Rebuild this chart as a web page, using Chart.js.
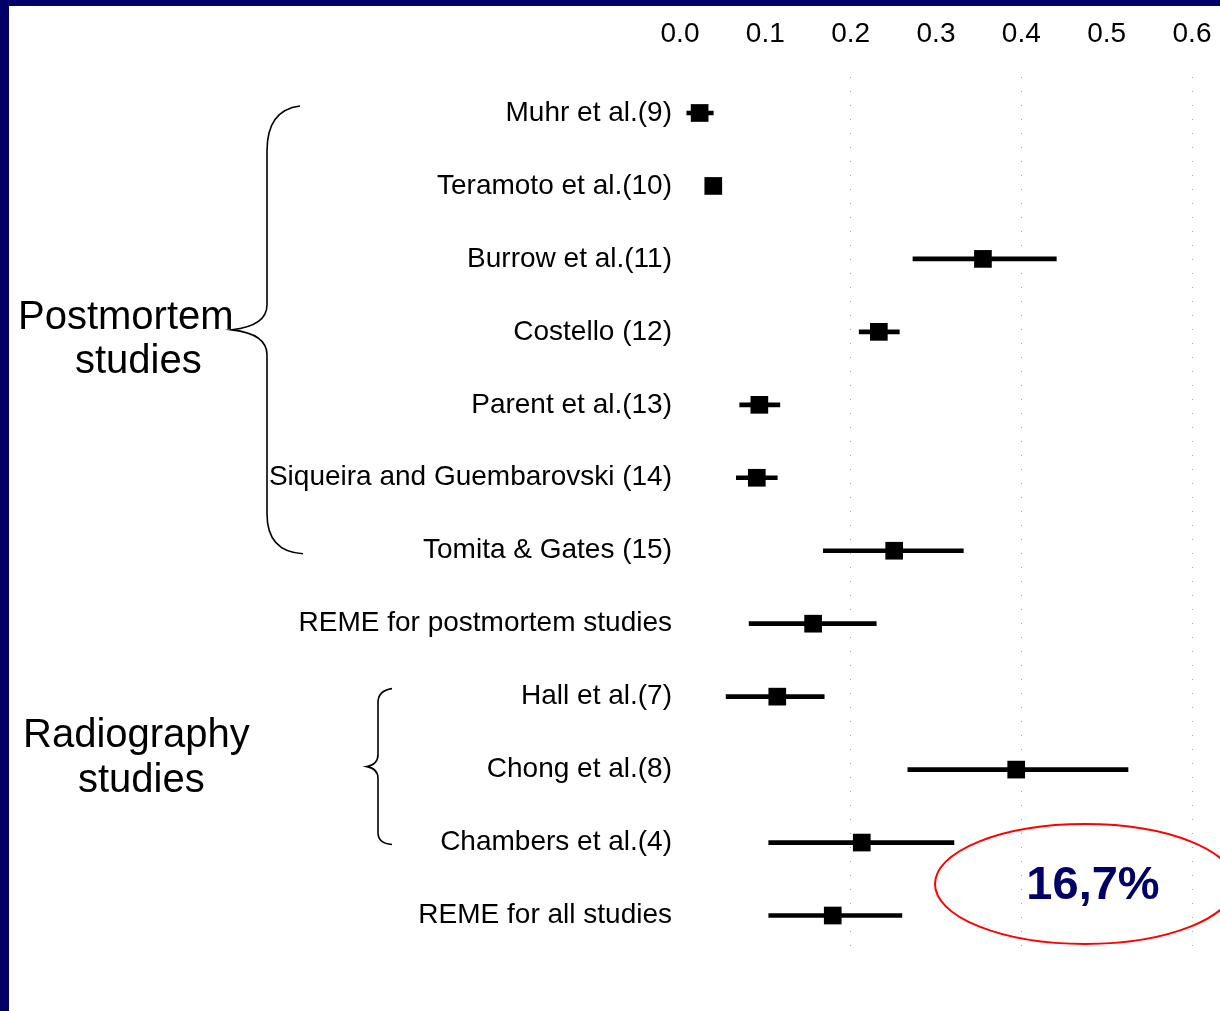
<!DOCTYPE html>
<html>
<head>
<meta charset="utf-8">
<script src="https://cdn.jsdelivr.net/npm/chart.js@4.4.0/dist/chart.umd.min.js"></script>
<style>
  body { margin: 0; background: #000066; overflow: hidden; }
  #wrap { position: absolute; left: 9px; top: 6px; width: 1211px; height: 1005px; background: #fff; }
</style>
</head>
<body>
<div id="wrap"><canvas id="forest" width="1211" height="1005"></canvas></div>
<script>
// studies, proportion and 95% CI
const studies = ['Muhr et al.(9)', 'Teramoto et al.(10)', 'Burrow et al.(11)', 'Costello (12)',
  'Parent et al.(13)', 'Siqueira and Guembarovski (14)', 'Tomita & Gates (15)',
  'REME for postmortem studies', 'Hall et al.(7)', 'Chong et al.(8)', 'Chambers et al.(4)', 'REME for all studies'];
const estimate = [0.023, 0.039, 0.355, 0.233, 0.093, 0.090, 0.251, 0.156, 0.114, 0.394, 0.213, 0.179];
const lower = [0.008, 0.039, 0.273, 0.210, 0.070, 0.066, 0.168, 0.081, 0.054, 0.267, 0.104, 0.104];
const upper = [0.039, 0.039, 0.441, 0.257, 0.117, 0.114, 0.332, 0.230, 0.169, 0.525, 0.321, 0.260];
const xTicks = [0, 0.1, 0.2, 0.3, 0.4, 0.5, 0.6];
const refLines = [0.2, 0.4, 0.6];

const ci = studies.map((s, i) => [lower[i], upper[i]]);

// braces, group names and the circled pooled value
const extras = {
  id: 'extras',
  afterDraw(chart) {
    const c = chart.ctx;
    const y = chart.scales.y;
    c.save();
    c.strokeStyle = '#000';
    c.lineWidth = 1.6;

    // postmortem brace
    let top = y.getPixelForValue(0) - 7;
    let bot = y.getPixelForValue(6) + 3;
    let mid = (top + bot) / 2;
    c.beginPath();
    c.moveTo(291, top);
    c.quadraticCurveTo(258, top + 4, 258, top + 45);
    c.lineTo(258, mid - 25);
    c.quadraticCurveTo(258, mid - 4, 223, mid);
    c.quadraticCurveTo(258, mid + 4, 258, mid + 25);
    c.lineTo(258, bot - 40);
    c.quadraticCurveTo(258, bot - 2, 294, bot);
    c.stroke();

    // radiography brace
    top = y.getPixelForValue(8) - 8;
    bot = y.getPixelForValue(10) + 2;
    mid = (top + bot) / 2;
    c.beginPath();
    c.moveTo(383, top);
    c.quadraticCurveTo(369, top + 2, 369, top + 14);
    c.lineTo(369, mid - 12);
    c.quadraticCurveTo(369, mid - 2, 358, mid);
    c.quadraticCurveTo(369, mid + 2, 369, mid + 12);
    c.lineTo(369, bot - 12);
    c.quadraticCurveTo(369, bot - 1, 383, bot);
    c.stroke();

    c.fillStyle = '#000';
    c.font = '40px "Liberation Sans", Arial, sans-serif';
    c.textBaseline = 'middle';
    c.textAlign = 'left';
    c.fillText('Postmortem', 9, 312);
    c.fillText('studies', 66, 356);
    c.fillText('Radiography', 14, 730);
    c.fillText('studies', 69, 775);

    c.beginPath();
    c.ellipse(1076, 878, 150, 60, 0, 0, Math.PI * 2);
    c.strokeStyle = '#ff0000';
    c.lineWidth = 2;
    c.stroke();
    c.fillStyle = '#000066';
    c.font = 'bold 47px "Liberation Sans", Arial, sans-serif';
    c.textAlign = 'center';
    c.fillText('16,7%', 1084, 880);
    c.restore();
  }
};

new Chart(document.getElementById('forest'), {
  type: 'bar',
  data: {
    labels: studies,
    datasets: [
      {
        type: 'line',
        data: estimate,
        showLine: false,
        pointStyle: 'rect',
        pointRadius: 12.5,
        backgroundColor: '#000',
        borderColor: '#000',
        borderWidth: 0,
        clip: false,
        order: 0
      },
      {
        data: ci,
        backgroundColor: '#000',
        barThickness: 4,
        borderSkipped: false,
        grouped: false,
        order: 1
      }
    ]
  },
  options: {
    indexAxis: 'y',
    responsive: false,
    animation: false,
    devicePixelRatio: 1,
    layout: { padding: { left: 0, right: 28, top: 0, bottom: 59 } },
    scales: {
      x: {
        type: 'linear',
        position: 'top',
        min: 0,
        max: 0.6,
        afterBuildTicks: s => { s.ticks = xTicks.map(v => ({ value: v })); },
        afterFit: s => { s.height = 70.5; s.paddingLeft = 0; s.paddingRight = 0; },
        ticks: {
          autoSkip: false,
          maxRotation: 0,
          padding: 25,
          color: '#000',
          font: { family: '"Liberation Sans", Arial, sans-serif', size: 28 },
          callback: v => v.toFixed(1)
        },
        grid: {
          drawTicks: false,
          lineWidth: 1,
          color: c => refLines.some(r => Math.abs(c.tick.value - r) < 1e-6) ? 'rgba(0,0,0,0.35)' : 'rgba(0,0,0,0)'
        },
        border: { display: false, dash: [1, 13] }
      },
      y: {
        type: 'category',
        offset: true,
        afterFit: s => { s.width = 671; },
        ticks: {
          padding: 0,
          color: '#000',
          autoSkip: false,
          font: { family: '"Liberation Sans", Arial, sans-serif', size: 28 }
        },
        grid: { display: false },
        border: { display: false }
      }
    },
    plugins: {
      legend: { display: false },
      tooltip: { enabled: false }
    }
  },
  plugins: [extras]
});
</script>
</body>
</html>
